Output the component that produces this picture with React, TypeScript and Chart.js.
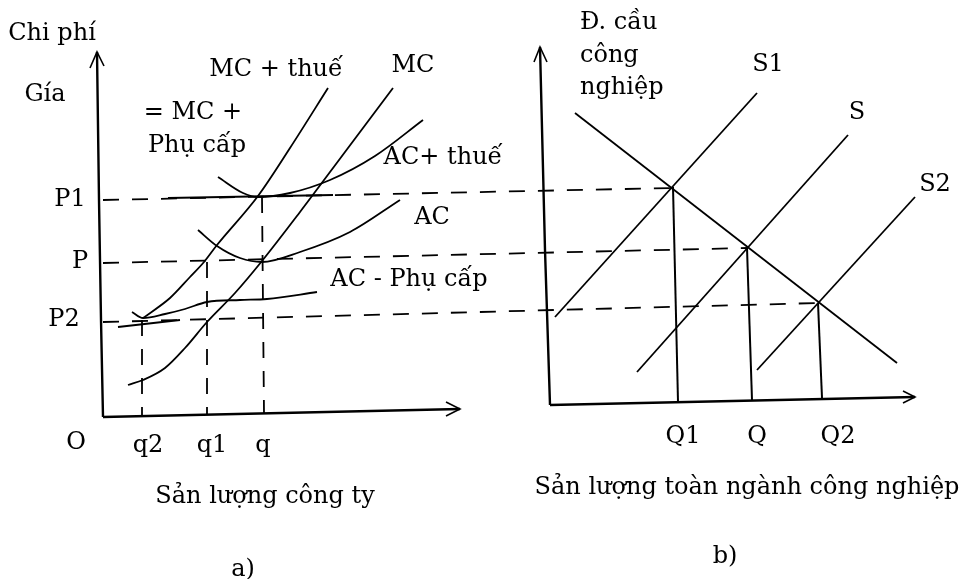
import React, { useEffect, useRef } from "react";
import { Chart, registerables } from "chart.js";

Chart.register(...registerables);

type Pt = { x: number; y: number };
const pts = (a: number[][]): Pt[] => a.map(([x, y]) => ({ x, y }));

// ---- Panel a) firm: axes (figure units) ----
const leftYAxis = [[97, 52], [99, 200], [101, 320], [103, 417]];
const leftXAxis = [[103, 417], [460, 409]];
const leftYArrow = [[90, 68], [97, 52], [104, 66]];
const leftXArrow = [[446, 402], [460, 409], [446, 416]];

// price levels P1, P, P2 (dashed, running into panel b)
const priceP1 = [[103, 200], [672, 188]];
const priceP = [[103, 263], [747, 248]];
const priceP2 = [[103, 322], [818, 303]];
const solidP1 = [[168, 198], [333, 195]];
const solidP2 = [[118, 327], [180, 320]];

// firm quantities q2, q1, q (dashed verticals)
const qtyQ2 = [[142, 320], [142, 417]];
const qtyQ1 = [[207, 262], [207, 415]];
const qtyQ = [[262, 197], [264, 413]];

// cost curves
const mcTax = [[143, 318], [170, 298], [190, 277], [204, 262], [217, 245], [258, 196], [290, 148], [328, 88]];
const mc = [[128, 385], [143, 380], [165, 368], [185, 348], [207, 322], [235, 293], [262, 261], [300, 212], [345, 152], [393, 88]];
const acTax = [[218, 177], [243, 193], [258, 197], [290, 193], [330, 180], [375, 156], [423, 120]];
const ac = [[198, 230], [217, 246], [240, 258], [262, 262], [300, 252], [350, 232], [400, 200]];
const acSub = [[132, 312], [143, 318], [165, 314], [185, 309], [207, 302], [240, 300], [267, 299], [317, 292]];

// ---- Panel b) industry ----
const rightYAxis = [[540, 47], [545, 250], [550, 405]];
const rightXAxis = [[550, 405], [915, 397]];
const rightYArrow = [[534, 62], [540, 47], [547, 62]];
const rightXArrow = [[903, 391], [915, 397], [903, 403]];

const demand = [[575, 113], [897, 363]];
const supplyS1 = [[555, 317], [757, 93]];
const supplyS = [[637, 372], [848, 135]];
const supplyS2 = [[757, 370], [915, 197]];
const qtyBigQ1 = [[673, 187], [678, 402]];
const qtyBigQ = [[747, 248], [752, 400]];
const qtyBigQ2 = [[818, 303], [822, 398]];

// ---- Labels ----
const labelTexts = [
  "Chi phí", "Gía", "MC + thuế", "MC", "= MC +", "Phụ cấp", "AC+ thuế", "AC", "AC - Phụ cấp",
  "P1", "P", "P2", "O", "q2", "q1", "q", "Sản lượng công ty", "a)",
  "Đ. cầu", "công", "nghiệp", "S1", "S", "S2", "Q1", "Q", "Q2",
  "Sản lượng toàn ngành công nghiệp", "b)",
];
const labelX = [
  52, 45, 276, 413, 193, 197, 443, 432, 409,
  70, 80, 64, 76, 148, 212, 263, 265, 243,
  580, 580, 580, 768, 857, 935, 683, 757, 838,
  747, 725,
];
const labelY = [
  34, 95, 70, 66, 113, 146, 158, 218, 280,
  200, 262, 320, 443, 446, 446, 446, 497, 570,
  23, 56, 88, 65, 113, 185, 437, 437, 437,
  488, 557,
];
const labelLeftAligned = [18, 19, 20];

const FONT = "24px 'DejaVu Serif'";

const straight = (d: number[][], w = 1.8) => ({
  data: pts(d),
  showLine: true,
  borderColor: "#000",
  borderWidth: w,
  pointRadius: 0,
  tension: 0,
  fill: false,
});
const curve = (d: number[][]) => ({ ...straight(d, 1.8), cubicInterpolationMode: "monotone" });
const dashed = (d: number[][]) => ({ ...straight(d, 1.8), borderDash: [16, 13] });

const labelPlugin = {
  id: "labels",
  afterDatasetsDraw(chart: any) {
    const { ctx, scales } = chart;
    ctx.save();
    ctx.fillStyle = "#000";
    ctx.font = FONT;
    ctx.textBaseline = "middle";
    labelTexts.forEach((t, i) => {
      ctx.textAlign = labelLeftAligned.includes(i) ? "left" : "center";
      ctx.fillText(t, scales.x.getPixelForValue(labelX[i]), scales.y.getPixelForValue(labelY[i]));
    });
    ctx.restore();
  },
};

export default function App() {
  const ref = useRef<HTMLCanvasElement>(null);
  useEffect(() => {
    if (!ref.current) return;
    const chart = new Chart(ref.current, {
      type: "scatter",
      data: {
        datasets: [
          straight(leftYAxis, 2.4), straight(leftXAxis, 2.4), straight(leftYArrow, 1.6), straight(leftXArrow, 1.6),
          dashed(priceP1), dashed(priceP), dashed(priceP2), straight(solidP1), straight(solidP2),
          dashed(qtyQ2), dashed(qtyQ1), dashed(qtyQ),
          curve(mcTax), curve(mc), curve(acTax), curve(ac), curve(acSub),
          straight(rightYAxis, 2.4), straight(rightXAxis, 2.4), straight(rightYArrow, 1.6), straight(rightXArrow, 1.6),
          straight(demand), straight(supplyS1), straight(supplyS), straight(supplyS2),
          straight(qtyBigQ1, 2), straight(qtyBigQ, 2), straight(qtyBigQ2, 2),
        ] as any,
      },
      options: {
        animation: false,
        responsive: false,
        devicePixelRatio: 1,
        layout: { padding: 0 },
        plugins: { legend: { display: false }, tooltip: { enabled: false } },
        scales: {
          x: { type: "linear", min: 0, max: 971, display: false },
          y: { type: "linear", min: 0, max: 579, reverse: true, display: false },
        },
      },
      plugins: [labelPlugin],
    });
    return () => chart.destroy();
  }, []);
  return (
    <div style={{ position: "absolute", left: 0, top: 0, width: 971, height: 579, background: "#fff" }}>
      <canvas ref={ref} width={971} height={579} />
    </div>
  );
}
